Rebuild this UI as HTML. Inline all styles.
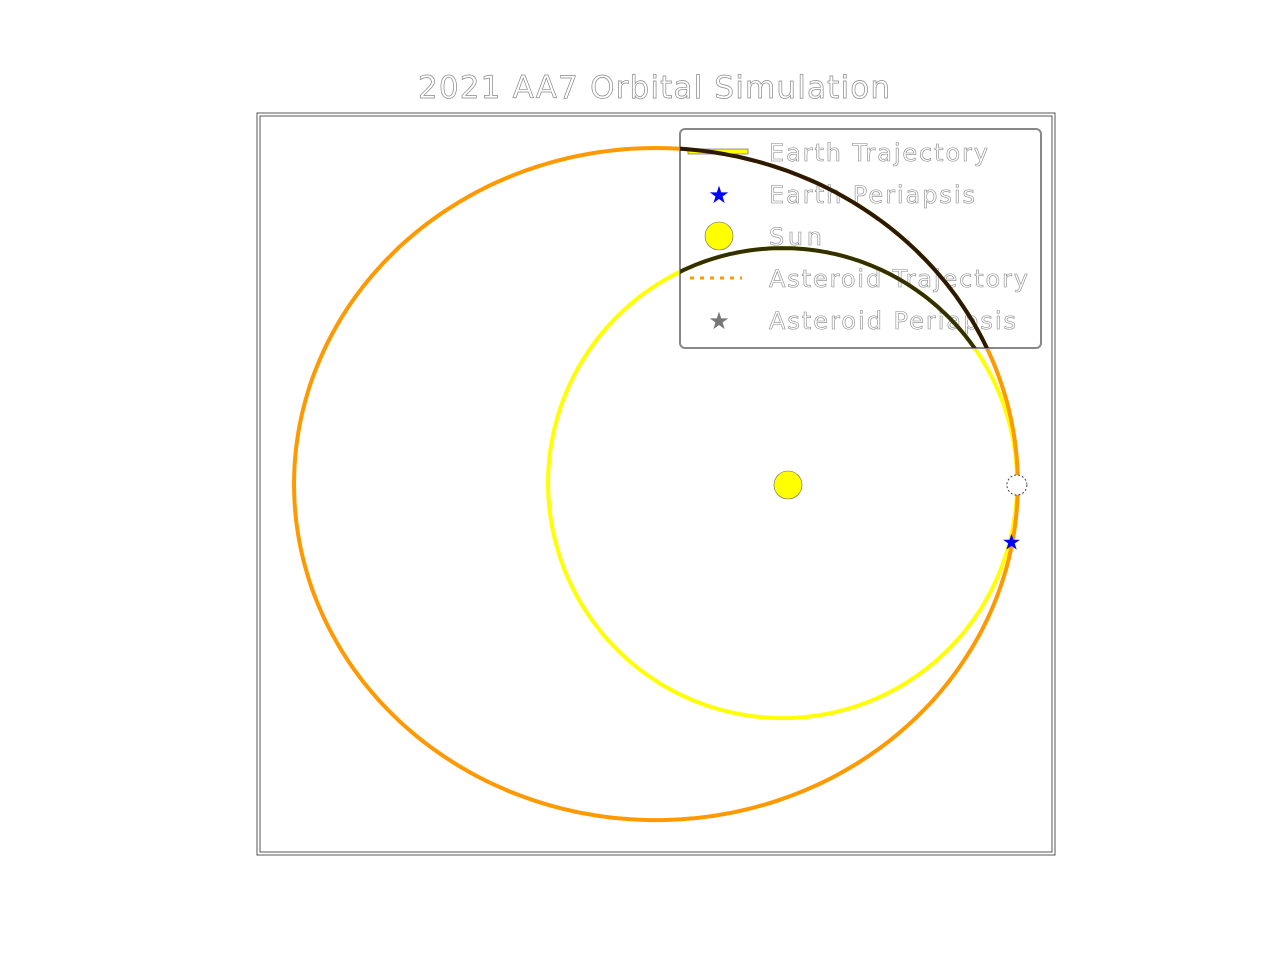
<!DOCTYPE html>
<html><head><meta charset="utf-8"><style>
html,body{margin:0;padding:0;background:#fff;}
svg text{font-family:"DejaVu Sans","Liberation Sans",sans-serif;}
</style></head><body>
<svg id="chart" width="1280" height="960" viewBox="0 0 1280 960" xmlns="http://www.w3.org/2000/svg">
<defs><clipPath id="legclip"><rect x="680" y="129" width="361" height="219"/></clipPath></defs>
<text x="418" y="98" textLength="472" lengthAdjust="spacing" font-size="31" fill="#fff" stroke="#888" stroke-width="0.7">2021 AA7 Orbital Simulation</text>
<rect x="257" y="113" width="798" height="742" fill="none" stroke="#555" stroke-width="1"/>
<rect x="260" y="116" width="792" height="736" fill="none" stroke="#555" stroke-width="1"/>
<g id="orbits"></g>
<g id="legend">
<rect x="680" y="129" width="361" height="219" rx="5" fill="none" stroke="#888" stroke-width="2"/>
<rect x="688" y="149" width="60" height="5" fill="#ff0" stroke="#333" stroke-width="0.5"/>
<text x="769" y="161" textLength="219" lengthAdjust="spacing" font-size="24" fill="#fff" stroke="#888" stroke-width="0.6">Earth Trajectory</text>
<text x="719" y="203" font-size="24" text-anchor="middle" fill="#00f">★</text>
<text x="769" y="203" textLength="206" lengthAdjust="spacing" font-size="24" fill="#fff" stroke="#888" stroke-width="0.6">Earth Periapsis</text>
<circle cx="719" cy="236" r="14" fill="#ff0" stroke="#666" stroke-width="0.6"/>
<text x="769" y="245" textLength="53" lengthAdjust="spacing" font-size="24" fill="#fff" stroke="#888" stroke-width="0.6">Sun</text>
<line x1="690" y1="278" x2="742" y2="278" stroke="#ff9900" stroke-width="3" stroke-dasharray="4,6"/>
<text x="769" y="287" textLength="259" lengthAdjust="spacing" font-size="24" fill="#fff" stroke="#888" stroke-width="0.6">Asteroid Trajectory</text>
<text x="719" y="329" font-size="24" text-anchor="middle" fill="#777">★</text>
<text x="769" y="329" textLength="247" lengthAdjust="spacing" font-size="24" fill="#fff" stroke="#888" stroke-width="0.6">Asteroid Periapsis</text>
</g>
<g id="dark" clip-path="url(#legclip)"></g>
<g id="marks"></g>
</svg>
<script>
// orbit data in AU (sun at origin)
const orbitNames = ['earth', 'asteroid'];
const orbitCenterX = [-0.023, -0.562];
const orbitCenterY = [0.008, 0.004];
const orbitSemiX = [0.998, 1.540];
const orbitSemiY = [1.000, 1.430];
const orbitColors = ['#ffff00', '#ff9900'];
const orbitDark = ['#333000', '#2b1a00'];
const sunPos = [0, 0];
const earthPos = [0.974, 0];
const earthPeri = [0.951, -0.24];

const ox = 788, oy = 485, s = 235;
const X = v => ox + v * s;
const Y = v => oy - v * s;
const NS = 'http://www.w3.org/2000/svg';

function ellipsePath(i) {
  let d = '';
  for (let k = 0; k <= 360; k++) {
    const t = k * Math.PI / 180;
    const px = X(orbitCenterX[i] + orbitSemiX[i] * Math.cos(t));
    const py = Y(orbitCenterY[i] + orbitSemiY[i] * Math.sin(t));
    d += (k ? 'L' : 'M') + px.toFixed(1) + ' ' + py.toFixed(1);
  }
  return d;
}
const og = document.getElementById('orbits');
const dg = document.getElementById('dark');
orbitNames.forEach((n, i) => {
  const p = document.createElementNS(NS, 'path');
  p.setAttribute('d', ellipsePath(i));
  p.setAttribute('fill', 'none');
  p.setAttribute('stroke', orbitColors[i]);
  p.setAttribute('stroke-width', '4');
  
  
  og.appendChild(p);
  const q = document.createElementNS(NS, 'path');
  q.setAttribute('d', ellipsePath(i));
  q.setAttribute('fill', 'none');
  q.setAttribute('stroke', orbitDark[i]);
  q.setAttribute('stroke-width', '4');
  
  
  dg.appendChild(q);
});
const mg = document.getElementById('marks');
const sun = document.createElementNS(NS, 'circle');
sun.setAttribute('cx', X(sunPos[0])); sun.setAttribute('cy', Y(sunPos[1])); sun.setAttribute('r', 14);
sun.setAttribute('fill', '#ff0'); sun.setAttribute('stroke', '#666'); sun.setAttribute('stroke-width', '0.6');


mg.appendChild(sun);
const earth = document.createElementNS(NS, 'circle');
earth.setAttribute('cx', X(earthPos[0])); earth.setAttribute('cy', Y(earthPos[1])); earth.setAttribute('r', 10);
earth.setAttribute('fill', '#fff'); earth.setAttribute('stroke', '#444'); earth.setAttribute('stroke-width', '1'); earth.setAttribute('stroke-dasharray', '2,2');


mg.appendChild(earth);
const star = document.createElementNS(NS, 'text');
star.setAttribute('x', X(earthPeri[0])); star.setAttribute('y', Y(earthPeri[1]) + 8);
star.setAttribute('text-anchor', 'middle'); star.setAttribute('font-size', '22'); star.setAttribute('fill', '#00f');
star.textContent = '★';


mg.appendChild(star);
</script>
</body></html>
